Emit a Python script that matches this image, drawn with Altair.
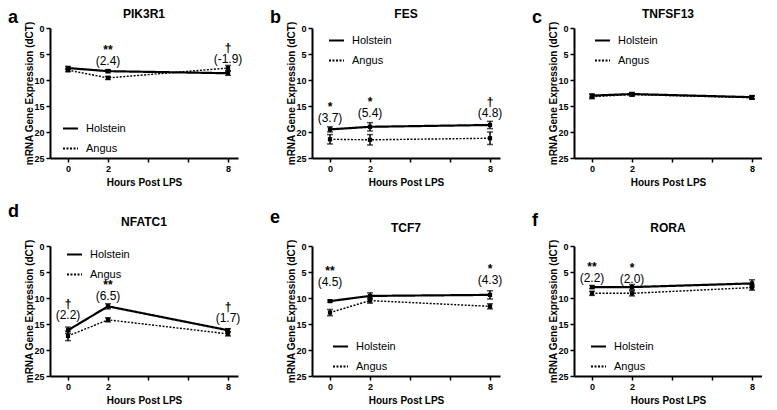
import altair as alt
import pandas as pd

hours = [0, 2, 8]
breeds = ["Holstein", "Angus"]
genes = ["PIK3R1", "FES", "TNFSF13", "NFATC1", "TCF7", "RORA"]
letters = ["a", "b", "c", "d", "e", "f"]

# mean dCT and error
pik3r1_holstein = [7.7, 8.3, 8.7]
pik3r1_holstein_err = [0.3, 0.3, 0.4]
pik3r1_angus = [8.1, 9.6, 7.7]
pik3r1_angus_err = [0.3, 0.3, 0.5]

fes_holstein = [19.5, 19.0, 18.65]
fes_holstein_err = [0.5, 0.8, 0.7]
fes_angus = [21.4, 21.5, 21.2]
fes_angus_err = [0.9, 1.0, 1.2]

tnfsf13_holstein = [13.0, 12.7, 13.3]
tnfsf13_holstein_err = [0.3, 0.3, 0.3]
tnfsf13_angus = [13.2, 12.8, 13.4]
tnfsf13_angus_err = [0.4, 0.3, 0.3]

nfatc1_holstein = [16.2, 11.6, 16.2]
nfatc1_holstein_err = [0.6, 0.5, 0.3]
nfatc1_angus = [17.3, 14.2, 16.9]
nfatc1_angus_err = [0.9, 0.4, 0.4]

tcf7_holstein = [10.6, 9.6, 9.4]
tcf7_holstein_err = [0.2, 0.6, 0.8]
tcf7_angus = [12.8, 10.5, 11.6]
tcf7_angus_err = [0.6, 0.5, 0.5]

rora_holstein = [7.9, 7.9, 7.2]
rora_holstein_err = [0.3, 0.5, 0.7]
rora_angus = [9.1, 9.1, 8.0]
rora_angus_err = [0.4, 0.5, 0.5]

# significance annotations: hour, marker, fold change, label level (dCT units)
pik3r1_sig_hours = [2, 8]
pik3r1_sig_marks = ["**", "†"]
pik3r1_fold = ["(2.4)", "(-1.9)"]
pik3r1_label_level = [6.3, 5.9]

fes_sig_hours = [0, 2, 8]
fes_sig_marks = ["*", "*", "†"]
fes_fold = ["(3.7)", "(5.4)", "(4.8)"]
fes_label_level = [17.4, 16.4, 16.4]

tnfsf13_sig_hours = []
tnfsf13_sig_marks = []
tnfsf13_fold = []
tnfsf13_label_level = []

nfatc1_sig_hours = [0, 2, 8]
nfatc1_sig_marks = ["†", "**", "†"]
nfatc1_fold = ["(2.2)", "(6.5)", "(1.7)"]
nfatc1_label_level = [13.2, 9.6, 13.9]

tcf7_sig_hours = [0, 8]
tcf7_sig_marks = ["**", "*"]
tcf7_fold = ["(4.5)", "(4.3)"]
tcf7_label_level = [7.0, 6.5]

rora_sig_hours = [0, 2]
rora_sig_marks = ["**", "*"]
rora_fold = ["(2.2)", "(2.0)"]
rora_label_level = [6.1, 6.3]

FONT = "Liberation Sans"
W, H = 188, 130


def panel(letter, gene, h, he, a, ae, sh, sm, sf, sl, leg_x, leg_y, letter_y, title_y):
    rows = []
    for breed, m, e in (("Holstein", h, he), ("Angus", a, ae)):
        for t, mv, ev in zip(hours, m, e):
            rows.append({"breed": breed, "hour": t, "mean": mv, "lo": mv - ev, "hi": mv + ev})
    df = pd.DataFrame(rows)
    ann = pd.DataFrame({"hour": sh, "mark": sm, "fold": sf, "level": sl})

    xs = alt.Scale(domain=[-0.9, 8.5], nice=False, zero=False)
    ys = alt.Scale(domain=[0, 25], reverse=True, nice=False, zero=False)
    xax = alt.Axis(values=[0, 2, 4, 6, 8],
                   labelExpr="datum.value == 4 || datum.value == 6 ? '' : datum.label",
                   title="Hours Post LPS")
    yax = alt.Axis(values=[0, 5, 10, 15, 20, 25], title="mRNA Gene Expression  (dCT)")

    def X():
        return alt.X("hour:Q", scale=xs, axis=xax)

    def Y(f):
        return alt.Y(f"{f}:Q", scale=ys, axis=yax)

    leg = alt.Legend(title=None, orient="none", legendX=leg_x, legendY=leg_y,
                     symbolType="stroke", symbolSize=225, symbolStrokeColor="black",
                     symbolStrokeWidth=1.8,
                     labelFont=FONT, labelFontSize=11, labelColor="black",
                     labelOffset=7, rowPadding=6, padding=0)
    dash = alt.StrokeDash("breed:N", scale=alt.Scale(domain=breeds, range=[[1, 0], [2, 1.5]]), legend=leg)
    base = alt.Chart(df)
    line_h = base.transform_filter(alt.datum.breed == "Holstein").mark_line(
        color="black", strokeWidth=2.2).encode(x=X(), y=Y("mean"), strokeDash=dash, order="hour:Q")
    line_a = base.transform_filter(alt.datum.breed == "Angus").mark_line(
        color="black", strokeWidth=1.4).encode(x=X(), y=Y("mean"), strokeDash=dash, order="hour:Q")
    bars = base.mark_rule(color="black", strokeWidth=1.5).encode(x=X(), y=Y("lo"), y2="hi:Q")
    cap_lo = base.mark_tick(color="black", orient="horizontal", size=6, thickness=1.5).encode(x=X(), y=Y("lo"))
    cap_hi = base.mark_tick(color="black", orient="horizontal", size=6, thickness=1.5).encode(x=X(), y=Y("hi"))
    pts = base.mark_point(shape="square", filled=True, size=18, color="black", opacity=1).encode(x=X(), y=Y("mean"))
    layers = [line_h, line_a, bars, cap_lo, cap_hi, pts]
    if len(ann):
        atext = alt.Chart(ann)
        fold_t = atext.mark_text(font=FONT, fontSize=12, color="black", baseline="middle").encode(
            x=X(), y=Y("level"), text="fold:N")
        mark_t = atext.mark_text(font=FONT, fontSize=12, fontWeight="bold", color="black",
                                 baseline="middle", dy=-11).encode(
            x=X(), y=Y("level"), text="mark:N")
        layers += [fold_t, mark_t]
    lab = pd.DataFrame({"letter": [letter], "gene": [gene]})
    let = alt.Chart(lab).mark_text(
        font=FONT, fontSize=18, fontWeight="bold", color="black", align="left",
        baseline="alphabetic", x=-42, y=letter_y).encode(text="letter:N")
    ttl = alt.Chart(lab).mark_text(
        font=FONT, fontSize=12, fontWeight="bold", color="black", align="center",
        baseline="middle", x=W / 2, y=title_y).encode(text="gene:N")
    layers += [let, ttl]
    return alt.layer(*layers).properties(width=W, height=H)


top_legend = 4
bot_legend = H - 38
pa = panel("a", "PIK3R1", pik3r1_holstein, pik3r1_holstein_err, pik3r1_angus, pik3r1_angus_err,
           pik3r1_sig_hours, pik3r1_sig_marks, pik3r1_fold, pik3r1_label_level, 12, bot_legend, -5, -14)
pb = panel("b", "FES", fes_holstein, fes_holstein_err, fes_angus, fes_angus_err,
           fes_sig_hours, fes_sig_marks, fes_fold, fes_label_level, 16, top_legend, -5, -14)
pc = panel("c", "TNFSF13", tnfsf13_holstein, tnfsf13_holstein_err, tnfsf13_angus, tnfsf13_angus_err,
           tnfsf13_sig_hours, tnfsf13_sig_marks, tnfsf13_fold, tnfsf13_label_level, 20, top_legend, -5, -14)
pd_ = panel("d", "NFATC1", nfatc1_holstein, nfatc1_holstein_err, nfatc1_angus, nfatc1_angus_err,
            nfatc1_sig_hours, nfatc1_sig_marks, nfatc1_fold, nfatc1_label_level, 16, 0, -29, -24)
pe = panel("e", "TCF7", tcf7_holstein, tcf7_holstein_err, tcf7_angus, tcf7_angus_err,
           tcf7_sig_hours, tcf7_sig_marks, tcf7_fold, tcf7_label_level, 20, bot_legend, -23, -18)
pf = panel("f", "RORA", rora_holstein, rora_holstein_err, rora_angus, rora_angus_err,
           rora_sig_hours, rora_sig_marks, rora_fold, rora_label_level, 16, bot_legend, -20, -18)

row1 = alt.hconcat(pa, pb, pc, spacing=74, bounds="flush").resolve_legend(strokeDash="independent")
row2 = alt.hconcat(pd_, pe, pf, spacing=74, bounds="flush").resolve_legend(strokeDash="independent")
chart = alt.vconcat(row1, row2, spacing=16).resolve_legend(
    strokeDash="independent"
).properties(padding=0).configure_axis(
    grid=False, domainColor="black", domainWidth=2, tickColor="black", tickWidth=1.5, tickSize=4,
    labelFont=FONT, labelFontWeight="bold", labelFontSize=9, labelColor="black", labelPadding=2,
    titleFont=FONT, titleFontWeight="bold", titleFontSize=10, titleColor="black", titlePadding=4,
).configure_axisY(titlePadding=-1).configure_view(stroke=None)

chart.save("out.html", embed_options={"renderer": "svg", "actions": False})
